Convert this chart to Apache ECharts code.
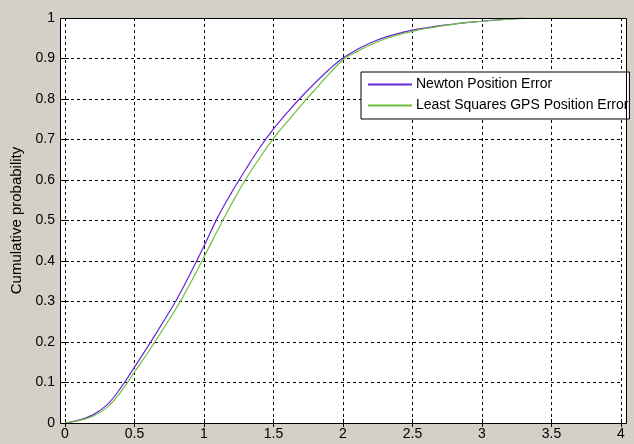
<!DOCTYPE html>
<html>
<head>
<meta charset="utf-8">
<script src="https://cdn.jsdelivr.net/npm/echarts@6/dist/echarts.min.js"></script>
<style>
html,body{margin:0;padding:0;background:#d4d0c8;}
#chart{width:634px;height:444px;}
</style>
</head>
<body>
<div id="chart"></div>
<script>
// x positions (position error) where the CDFs were read
const xValues = [0,0.1,0.2,0.3,0.4,0.5,0.6,0.7,0.8,0.9,1.0,1.1,1.2,1.3,1.4,1.5,1.6,1.7,1.8,1.9,2.0,
  2.1,2.2,2.3,2.4,2.5,2.6,2.7,2.8,2.9,3.0,3.1,3.2,3.3,3.4,3.5,3.6,3.7,3.8,3.9,4.0];
// Newton Position Error CDF (ends near 3.3)
const newtonCdf = [0,0.007,0.020,0.044,0.086,0.138,0.191,0.246,0.303,0.368,0.437,0.509,0.570,0.626,0.679,0.726,
  0.767,0.805,0.840,0.873,0.901,0.922,0.939,0.952,0.962,0.970,0.976,0.981,0.985,0.989,0.992,0.995,0.998,1.0];
// Least Squares GPS Position Error CDF
const lsCdf = [0,0.006,0.017,0.038,0.076,0.126,0.176,0.229,0.283,0.344,0.410,0.477,0.542,0.602,0.654,0.703,
  0.744,0.785,0.824,0.862,0.897,0.917,0.934,0.948,0.959,0.967,0.974,0.980,0.985,0.989,0.992,0.995,0.997,0.999,1.0,1.0,1.0,1.0,1.0,1.0,1.0];
const xTicks = [0,0.5,1,1.5,2,2.5,3,3.5,4];
const yTicks = [0,0.1,0.2,0.3,0.4,0.5,0.6,0.7,0.8,0.9,1];
const seriesNames = ['Newton Position Error','Least Squares GPS Position Error'];
const seriesColors = ['#6a26dc','#6cc03c'];
const yAxisTitle = 'Cumulative probability';

const zip = (xs, ys) => ys.map((y, i) => [xs[i], y]);
const font = 'Liberation Sans, Arial, sans-serif';

const chart = echarts.init(document.getElementById('chart'));
const tickStyle = {show:true, inside:true, length:4, lineStyle:{color:'#000', width:1}};
chart.setOption({
  backgroundColor: '#d4d0c8',
  animation: false,
  grid: {left:65, right:13, top:18, bottom:21},
  graphic: [
    {type:'rect', z:-10, shape:{x:60, y:18, width:566, height:405}, style:{fill:'#fff'}},
    {type:'rect', z:100, shape:{x:60.5, y:18.5, width:566, height:405}, style:{fill:'none', stroke:'#000', lineWidth:1}}
  ],
  legend: {
    orient:'vertical', left:361, top:72,
    backgroundColor:'#fff', borderColor:'#000', borderWidth:1, borderRadius:0,
    padding:[5,1,6,7], itemWidth:44, itemHeight:2, itemGap:6, icon:'rect',
    itemStyle:{borderWidth:0},
    textStyle:{fontFamily:font, fontSize:14, lineHeight:15, color:'#000', padding:[0,0,0,-1]},
    data: seriesNames.map((n, i) => ({name:n, itemStyle:{color:seriesColors[i], borderWidth:0}})), z:50
  },
  xAxis: [{
    type:'value', min:0, max:4, interval:0.5, position:'bottom',
    axisLine:{show:false}, axisTick:tickStyle,
    axisLabel:{color:'#000', fontFamily:font, fontSize:14, margin:4,
      formatter: v => xTicks.includes(v) ? String(v) : ''},
    splitLine:{show:true, lineStyle:{color:'#000', type:[3,3], width:1}}
  },{
    type:'value', min:0, max:4, interval:0.5, position:'top',
    axisLine:{show:false}, axisTick:tickStyle, axisLabel:{show:false}, splitLine:{show:false}
  }],
  yAxis: [{
    type:'value', min:0, max:1, interval:0.1, position:'left', offset:5,
    name: yAxisTitle, nameLocation:'middle', nameGap:34, nameRotate:90,
    nameTextStyle:{fontFamily:font, fontSize:15, color:'#000'},
    axisLine:{show:false}, axisTick:tickStyle,
    axisLabel:{color:'#000', fontFamily:font, fontSize:14, margin:5,
      formatter: v => { const r = Math.round(v*10)/10; return yTicks.includes(r) ? String(r) : ''; }},
    splitLine:{show:true, lineStyle:{color:'#000', type:[3,3], width:1}}
  },{
    type:'value', min:0, max:1, interval:0.1, position:'right', offset:5,
    axisLine:{show:false}, axisTick:tickStyle, axisLabel:{show:false}, splitLine:{show:false}
  }],
  series: [
    {name:seriesNames[0], type:'line', data:zip(xValues, newtonCdf), symbol:'none', smooth:0.4,
      lineStyle:{color:seriesColors[0], width:1.2}, itemStyle:{color:seriesColors[0]}, z:3},
    {name:seriesNames[1], type:'line', data:zip(xValues, lsCdf), symbol:'none', smooth:0.4,
      lineStyle:{color:seriesColors[1], width:1.2}, itemStyle:{color:seriesColors[1]}, z:4}
  ]
});
</script>
</body>
</html>
